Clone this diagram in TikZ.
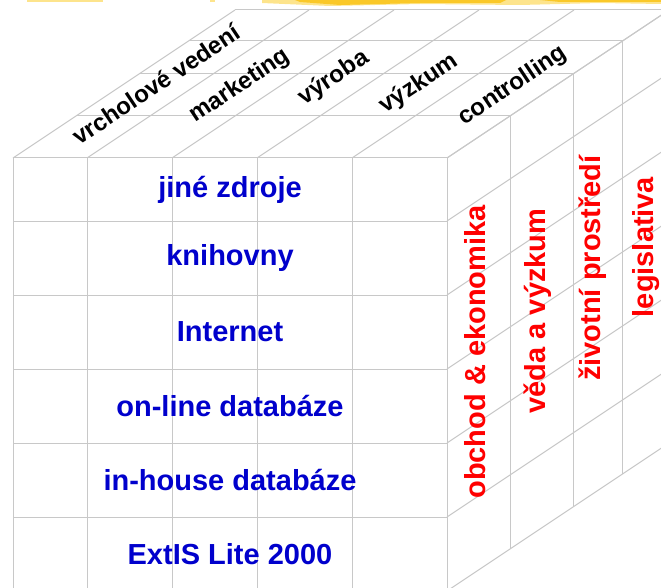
\documentclass[tikz,border=0pt]{standalone}
\usepackage{fontspec}
\setmainfont{Liberation Sans}
\definecolor{srcblue}{RGB}{0,0,204}
\definecolor{gridgray}{RGB}{200,200,200}
\definecolor{brushgold}{RGB}{250,200,40}
\definecolor{brushlight}{RGB}{253,228,140}

\begin{document}
\begin{tikzpicture}[
    x=1pt, y=-1pt,
    gridline/.style={draw=gridgray, line width=1pt},
    source/.style={font=\fontsize{29}{34}\selectfont\bfseries, text=srcblue,
                   inner sep=0pt},
    dept/.style={font=\fontsize{24}{28}\selectfont\bfseries, text=black,
                 rotate=33.7, inner sep=0pt},
    field/.style={font=\fontsize{29}{34}\selectfont\bfseries, text=red,
                  rotate=90, inner sep=0pt}
]
    \useasboundingbox (0,0) rectangle (661,588);
    \clip (0,0) rectangle (661,588);

    % brush stroke of the slide template
    \fill[brushlight] (27,0) rectangle (103,2);
    \fill[brushlight] (210,0) rectangle (215,2);
    \fill[brushlight] (262,0) -- (661,0) -- (661,4) -- (600,3) -- (520,5)
        -- (420,4) -- (330,6) -- (262,3) -- cycle;
    \fill[brushgold] (295,0) -- (506,0) -- (500,3) -- (420,3) -- (340,5)
        -- (300,2) -- cycle;
    \fill[brushgold] (540,0) -- (661,0) -- (661,2) -- (560,2) -- cycle;

    % front face
    \foreach \x in {13,87,172,257,352,447}
        \draw[gridline] (\x,158) -- (\x,591);
    \foreach \y in {158,221,295,369,443,517}
        \draw[gridline] (13,\y) -- (447,\y);

    % top face
    \foreach \x in {13,87,172,257,352,447}
        \draw[gridline] (\x,158) -- ++(222,-148);
    \foreach \d in {42,84,117,148}
        \draw[gridline] (13+1.5*\d,158-\d) -- (447+1.5*\d,158-\d);

    % right face
    \foreach \y in {158,221,295,369,443,517,591}
        \draw[gridline] (447,\y) -- ++(222,-148);
    \foreach \d in {42,84,117,148}
        \draw[gridline] (447+1.5*\d,158-\d) -- (447+1.5*\d,591-\d);

    % sources
    \node (jine)     [source] at (230,190) {jiné zdroje};
    \node (knihovny) [source] at (230,258) {knihovny};
    \node (internet) [source] at (230,332) {Internet};
    \node (online)   [source] at (230,406) {on-line databáze};
    \node (inhouse)  [source] at (230,480) {in-house databáze};
    \node (extis)    [source] at (230,554) {ExtIS Lite 2000};

    % departments
    \node (vedeni)      [dept] at (156,84) {vrcholové vedení};
    \node (marketing)   [dept] at (240,86) {marketing};
    \node (vyroba)      [dept] at (334,78) {výroba};
    \node (vyzkum)      [dept] at (419,84) {výzkum};
    \node (controlling) [dept] at (513,86) {controlling};

    % fields
    \node (obchod)  [field] at (475,352) {obchod \& ekonomika};
    \node (veda)    [field] at (538,311) {věda a výzkum};
    \node (prostr)  [field] at (593,268) {životní prostředí};
    \node (legisl)  [field] at (646,247) {legislativa};

\end{tikzpicture}
\end{document}
